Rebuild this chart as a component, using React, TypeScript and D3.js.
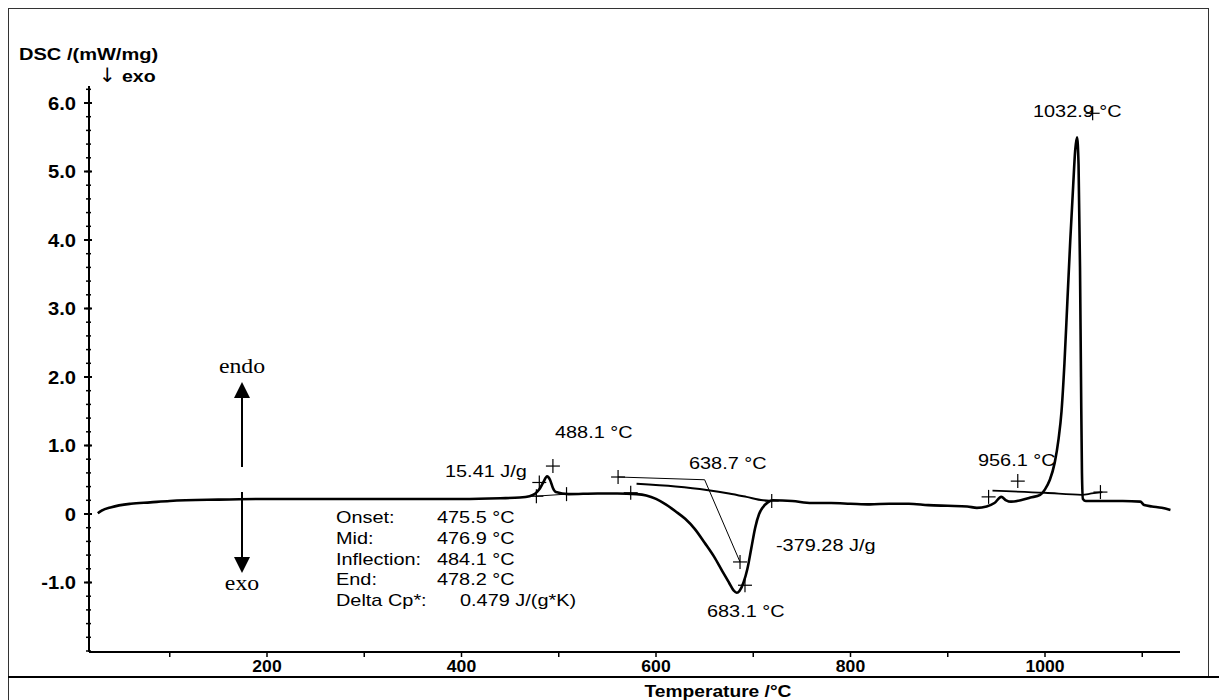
import React from "react";
import * as d3 from "d3";

// DSC curve (temperature °C, DSC mW/mg)
const temps = [26, 30, 40, 60, 80, 100, 150, 200, 250, 300, 350, 400, 440, 460, 470, 476, 480, 484, 488, 491, 494, 497, 510, 540, 560, 580, 590, 600, 610, 620, 630, 640, 650, 660, 668, 675, 680, 683, 686, 690, 694, 698, 702, 706, 710, 715, 720, 740, 760, 780, 800, 820, 840, 860, 880, 900, 920, 930, 940, 948, 955, 960, 965, 975, 985, 995, 1000, 1005, 1010, 1014, 1017, 1020, 1023, 1026, 1029, 1031, 1032.9, 1034.5, 1036, 1037, 1038, 1039, 1042, 1060, 1080, 1098, 1102, 1110, 1120, 1129];
const dsc = [0.01, 0.05, 0.1, 0.15, 0.17, 0.19, 0.21, 0.22, 0.22, 0.22, 0.22, 0.22, 0.23, 0.24, 0.26, 0.3, 0.36, 0.46, 0.55, 0.5, 0.38, 0.32, 0.29, 0.3, 0.3, 0.29, 0.27, 0.22, 0.14, 0.04, -0.07, -0.22, -0.42, -0.63, -0.83, -1.0, -1.12, -1.15, -1.12, -1.0, -0.8, -0.5, -0.2, 0.0, 0.1, 0.17, 0.2, 0.19, 0.16, 0.16, 0.15, 0.14, 0.15, 0.15, 0.13, 0.12, 0.11, 0.09, 0.11, 0.16, 0.25, 0.2, 0.18, 0.2, 0.24, 0.28, 0.36, 0.5, 0.75, 1.1, 1.5, 2.2, 3.1, 4.0, 4.8, 5.3, 5.5, 5.1, 3.6, 2.0, 0.6, 0.22, 0.19, 0.19, 0.19, 0.18, 0.13, 0.11, 0.09, 0.06];

// evaluation baselines
const dipBaseT = [580, 620, 652, 675, 693, 710, 719];
const dipBaseV = [0.44, 0.4, 0.35, 0.3, 0.25, 0.2, 0.19];
const tangentT = [561, 650, 686.4];
const tangentV = [0.54, 0.5, -0.7];
const smallBaseT = [476, 508];
const smallBaseV = [0.26, 0.29];
const rightBaseT = [946, 1000, 1038, 1048, 1059];
const rightBaseV = [0.34, 0.31, 0.28, 0.3, 0.32];

// "+" evaluation markers
const markT = [477, 480, 494, 508, 561, 574, 686.4, 691.5, 719, 942, 972, 1057, 1049];
const markV = [0.26, 0.46, 0.7, 0.29, 0.54, 0.31, -0.7, -1.04, 0.19, 0.25, 0.48, 0.32, 5.85];

const yMajor = [6, 5, 4, 3, 2, 1, 0, -1];
const yMajorLabels = ["6.0", "5.0", "4.0", "3.0", "2.0", "1.0", "0", "-1.0"];
const xTicks = [100, 200, 300, 400, 500, 600, 700, 800, 900, 1000, 1100];
const xLabels = [200, 400, 600, 800, 1000];

const onsetLabels = ["Onset:", "Mid:", "Inflection:", "End:", "Delta Cp*:"];
const onsetValues = ["475.5 °C", "476.9 °C", "484.1 °C", "478.2 °C", "0.479 J/(g*K)"];

const SANS = "'Liberation Sans', Arial, sans-serif";
const SERIF = "'Liberation Serif', 'Times New Roman', serif";

const Txt = ({ x, y, children, size = 17, weight = "normal", anchor = "start", sx = 1.17, family = SANS }: any) => (
  <text
    transform={`translate(${x},${y}) scale(${sx},1)`}
    fontSize={size}
    fontWeight={weight}
    textAnchor={anchor}
    fontFamily={family}
    fill="#000"
  >
    {children}
  </text>
);

export default function App() {
  const x = d3.scaleLinear().domain([200, 1000]).range([267, 1045]);
  const y = d3.scaleLinear().domain([-2, 6]).range([651, 103]);
  const x0 = 89, x1 = 1180, yTop = 86, yBot = 652;

  const line = d3
    .line<number>()
    .x((_, i) => x(temps[i]))
    .y((d) => y(d))
    .curve(d3.curveMonotoneX);
  const mk = (ts: number[], vs: number[], smooth = false) => {
    const l = d3.line<number>().x((_, i) => x(ts[i])).y((d) => y(d));
    if (smooth) l.curve(d3.curveMonotoneX);
    return l(vs) || "";
  };

  const minor: number[] = [];
  for (let k = -10; k <= 31; k++) minor.push(k / 5);

  return (
    <svg width={1219} height={700} style={{ position: "absolute", left: 0, top: 0, background: "#fff" }}>
      <rect x={0} y={0} width={1219} height={700} fill="#fff" />
      {/* frame */}
      <line x1={8} y1={8.5} x2={1208} y2={8.5} stroke="#333" strokeWidth={1} />
      <line x1={8.5} y1={8} x2={8.5} y2={700} stroke="#333" strokeWidth={1} />
      <line x1={1208.5} y1={8} x2={1208.5} y2={677} stroke="#333" strokeWidth={1} />
      <line x1={8} y1={677} x2={1219} y2={677} stroke="#000" strokeWidth={2.2} />

      {/* axes */}
      <line x1={x0} y1={yTop} x2={x0} y2={yBot} stroke="#000" strokeWidth={2} />
      <line x1={x0} y1={yBot} x2={x1} y2={yBot} stroke="#000" strokeWidth={2} />
      {minor.map((v) => (
        <line key={"m" + v} x1={x0 - 3} x2={x0 + 2} y1={y(v)} y2={y(v)} stroke="#000" strokeWidth={1.5} />
      ))}
      {yMajor.map((v, i) => (
        <g key={"y" + v}>
          <line x1={x0 - 5} x2={x0 + 3} y1={y(v)} y2={y(v)} stroke="#000" strokeWidth={2} />
          <Txt x={76} y={y(v) + 6.5} size={18} weight="bold" anchor="end" sx={1.12}>
            {yMajorLabels[i]}
          </Txt>
        </g>
      ))}
      {xTicks.map((t) => (
        <line key={"x" + t} x1={x(t)} x2={x(t)} y1={yBot} y2={yBot + 5} stroke="#000" strokeWidth={1.5} />
      ))}
      {xLabels.map((t) => (
        <Txt key={"xl" + t} x={x(t)} y={672} size={16} weight="bold" anchor="middle" sx={1.1}>
          {t}
        </Txt>
      ))}
      <Txt x={718} y={697} size={16} weight="bold" anchor="middle" sx={1.2}>
        Temperature /°C
      </Txt>
      <Txt x={19} y={60} size={17} weight="bold" sx={1.18}>
        DSC /(mW/mg)
      </Txt>
      <Txt x={99} y={82} size={20} sx={1.0} family="'DejaVu Sans', sans-serif">
        ↓
      </Txt>
      <Txt x={122} y={82} size={17} weight="bold" sx={1.15}>
        exo
      </Txt>

      {/* baselines */}
      <path d={mk(dipBaseT, dipBaseV, true)} fill="none" stroke="#000" strokeWidth={2} />
      <path d={mk(tangentT, tangentV)} fill="none" stroke="#000" strokeWidth={1} />
      <path d={mk(smallBaseT, smallBaseV)} fill="none" stroke="#000" strokeWidth={1} />
      <path d={mk(rightBaseT, rightBaseV, true)} fill="none" stroke="#000" strokeWidth={1.8} />

      {/* curve */}
      <path d={line(dsc) || ""} fill="none" stroke="#000" strokeWidth={2.6} strokeLinejoin="round" />

      {/* markers */}
      {markT.map((t, i) => (
        <g key={"p" + i} stroke="#000" strokeWidth={1.2}>
          <line x1={x(t) - 7} x2={x(t) + 7} y1={y(markV[i])} y2={y(markV[i])} />
          <line x1={x(t)} x2={x(t)} y1={y(markV[i]) - 7} y2={y(markV[i]) + 7} />
        </g>
      ))}

      {/* endo / exo */}
      <line x1={242} x2={242} y1={396} y2={467} stroke="#000" strokeWidth={2} />
      <path d="M242,382 L234,398 L250,398 Z" fill="#000" />
      <line x1={242} x2={242} y1={492} y2={560} stroke="#000" strokeWidth={2} />
      <path d="M242,573 L234,557 L250,557 Z" fill="#000" />
      <Txt x={242} y={373} size={22} anchor="middle" sx={1.08} family={SERIF}>endo</Txt>
      <Txt x={242} y={590} size={22} anchor="middle" sx={1.08} family={SERIF}>exo</Txt>

      {/* annotations */}
      <Txt x={1033} y={117}>1032.9 °C</Txt>
      <Txt x={978} y={466}>956.1 °C</Txt>
      <Txt x={555} y={438}>488.1 °C</Txt>
      <Txt x={445} y={477}>15.41 J/g</Txt>
      <Txt x={689} y={469}>638.7 °C</Txt>
      <Txt x={776} y={551}>-379.28 J/g</Txt>
      <Txt x={707} y={617}>683.1 °C</Txt>
      {onsetLabels.map((l, i) => (
        <g key={"o" + i}>
          <Txt x={336} y={523 + i * 20.8}>{l}</Txt>
          <Txt x={i === 4 ? 460 : 437} y={523 + i * 20.8}>{onsetValues[i]}</Txt>
        </g>
      ))}
    </svg>
  );
}
